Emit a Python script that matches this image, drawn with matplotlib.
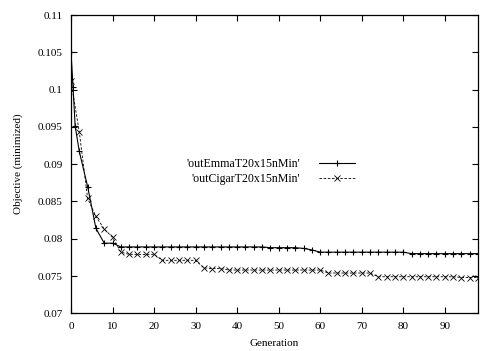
import matplotlib
matplotlib.use('Agg')
from matplotlib import pyplot as plt
from matplotlib.ticker import FuncFormatter

# data
emmaGen = [0, 0.5, 1, 2, 4, 6, 8, 10, 12, 14, 16, 18, 20, 22, 24, 26, 28, 30,
           32, 34, 36, 38, 40, 42, 44, 46, 48, 50, 52, 54, 56, 58, 60, 62, 64,
           66, 68, 70, 72, 74, 76, 78, 80, 82, 84, 86, 88, 90, 92, 94, 96, 98]
emmaVal = [0.105, 0.1003, 0.0951, 0.0917, 0.0870, 0.0814, 0.0794, 0.0794,
           0.0789, 0.0789, 0.0789, 0.0789, 0.0789, 0.0789, 0.0789, 0.0789,
           0.0789, 0.0789, 0.0789, 0.0789, 0.0789, 0.0789, 0.0789, 0.0789,
           0.0789, 0.0789, 0.0788, 0.0788, 0.0788, 0.0788, 0.0787, 0.0785,
           0.0782, 0.0782, 0.0782, 0.0782, 0.0782, 0.0782, 0.0782, 0.0782,
           0.0782, 0.0782, 0.0782, 0.0780, 0.0780, 0.0780, 0.0780, 0.0780,
           0.0780, 0.0780, 0.0780, 0.0780]

cigarGen = [0, 2, 4, 6, 8, 10, 12, 14, 16, 18, 20, 22, 24, 26, 28, 30, 32, 34,
            36, 38, 40, 42, 44, 46, 48, 50, 52, 54, 56, 58, 60, 62, 64, 66, 68,
            70, 72, 74, 76, 78, 80, 82, 84, 86, 88, 90, 92, 94, 96, 98]
cigarVal = [0.1011, 0.0943, 0.0854, 0.0830, 0.0813, 0.0802, 0.0782, 0.0779,
            0.0779, 0.0779, 0.0779, 0.0771, 0.0771, 0.0771, 0.0771, 0.0771,
            0.0761, 0.0760, 0.0760, 0.0758, 0.0758, 0.0758, 0.0758, 0.0758,
            0.0758, 0.0758, 0.0758, 0.0758, 0.0758, 0.0758, 0.0758, 0.0754,
            0.0754, 0.0754, 0.0754, 0.0754, 0.0754, 0.0749, 0.0749, 0.0749,
            0.0749, 0.0749, 0.0749, 0.0749, 0.0749, 0.0749, 0.0749, 0.0748,
            0.0748, 0.0748]

xTicks = [0, 10, 20, 30, 40, 50, 60, 70, 80, 90]
yTicks = [0.07, 0.075, 0.08, 0.085, 0.09, 0.095, 0.1, 0.105, 0.11]

plt.rcParams['font.family'] = ['Liberation Serif', 'DejaVu Serif']
plt.rcParams['font.size'] = 8

fig = plt.figure(figsize=(5.01, 3.51), dpi=100)
ax = fig.add_axes([71/501, 1-313.3/351, (478-71)/501, (313.3-15)/351])

ax.plot(emmaGen, emmaVal, color='black', lw=0.8, marker='+', ms=5, mew=0.8,
        label="'outEmmaT20x15nMin'")
ax.plot(cigarGen, cigarVal, color='black', lw=0.6, ls=(0, (3, 2)), marker='x',
        ms=4, mew=0.6, label="'outCigarT20x15nMin'")

ax.set_xlim(0, 98)
ax.set_ylim(0.07, 0.11)
ax.set_xticks(xTicks)
ax.set_yticks(yTicks)
ax.yaxis.set_major_formatter(FuncFormatter(lambda v, p: '%g' % round(v, 4)))
ax.tick_params(direction='in', top=True, right=True, length=4, width=0.8, pad=6)
for s in ax.spines.values():
    s.set_linewidth(0.9)

ax.set_xlabel('Generation', labelpad=6)
ax.set_ylabel('Objective (minimized)', labelpad=11)

ax.legend(loc='upper right', bbox_to_anchor=(0.712, 0.54), frameon=False,
          markerfirst=False, handlelength=3.0, handletextpad=1.6,
          labelspacing=0.25, borderpad=0, fontsize=8.6)

fig.savefig('out.png', dpi=100)
